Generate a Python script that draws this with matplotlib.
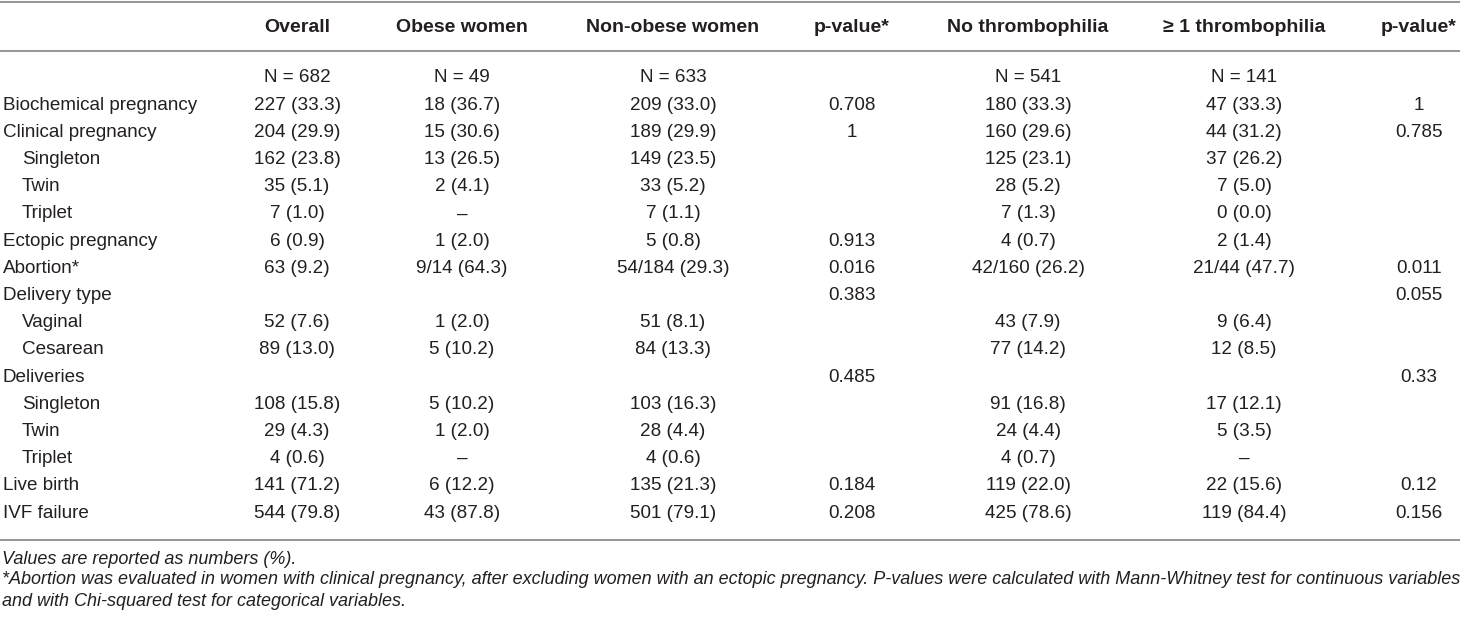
import matplotlib
matplotlib.use("Agg")
import matplotlib.pyplot as plt

# ---- table content ----
col_headers = ["Overall", "Obese women", "Non-obese women", "p-value*",
               "No thrombophilia", "\u2265 1 thrombophilia", "p-value*"]

n_row = ["N = 682", "N = 49", "N = 633", "", "N = 541", "N = 141", ""]

row_labels = ["Biochemical pregnancy", "Clinical pregnancy", "Singleton", "Twin",
              "Triplet", "Ectopic pregnancy", "Abortion*", "Delivery type",
              "Vaginal", "Cesarean", "Deliveries", "Singleton", "Twin",
              "Triplet", "Live birth", "IVF failure"]
row_indent = [0, 0, 1, 1, 1, 0, 0, 0, 1, 1, 0, 1, 1, 1, 0, 0]

overall = ["227 (33.3)", "204 (29.9)", "162 (23.8)", "35 (5.1)", "7 (1.0)",
           "6 (0.9)", "63 (9.2)", "", "52 (7.6)", "89 (13.0)", "",
           "108 (15.8)", "29 (4.3)", "4 (0.6)", "141 (71.2)", "544 (79.8)"]
obese = ["18 (36.7)", "15 (30.6)", "13 (26.5)", "2 (4.1)", "\u2013",
         "1 (2.0)", "9/14 (64.3)", "", "1 (2.0)", "5 (10.2)", "",
         "5 (10.2)", "1 (2.0)", "\u2013", "6 (12.2)", "43 (87.8)"]
non_obese = ["209 (33.0)", "189 (29.9)", "149 (23.5)", "33 (5.2)", "7 (1.1)",
             "5 (0.8)", "54/184 (29.3)", "", "51 (8.1)", "84 (13.3)", "",
             "103 (16.3)", "28 (4.4)", "4 (0.6)", "135 (21.3)", "501 (79.1)"]
p_obesity = ["0.708", "1", "", "", "", "0.913", "0.016", "0.383", "", "",
             "0.485", "", "", "", "0.184", "0.208"]
no_thromb = ["180 (33.3)", "160 (29.6)", "125 (23.1)", "28 (5.2)", "7 (1.3)",
             "4 (0.7)", "42/160 (26.2)", "", "43 (7.9)", "77 (14.2)", "",
             "91 (16.8)", "24 (4.4)", "4 (0.7)", "119 (22.0)", "425 (78.6)"]
thromb = ["47 (33.3)", "44 (31.2)", "37 (26.2)", "7 (5.0)", "0 (0.0)",
          "2 (1.4)", "21/44 (47.7)", "", "9 (6.4)", "12 (8.5)", "",
          "17 (12.1)", "5 (3.5)", "\u2013", "22 (15.6)", "119 (84.4)"]
p_thromb = ["1", "0.785", "", "", "", "", "0.011", "0.055", "", "",
            "0.33", "", "", "", "0.12", "0.156"]

footnotes = [
    "Values are reported as numbers (%).",
    "*Abortion was evaluated in women with clinical pregnancy, after excluding "
    "women with an ectopic pregnancy. P-values were calculated with Mann-Whitney "
    "test for continuous variables",
    "and with Chi-squared test for categorical variables.",
]

# ---- layout (pixel coordinates) ----
W, H = 1460, 622
col_x = [297, 462, 673, 852, 1028, 1244, 1419]
header_y = 27
first_row_y = 78
row_h = 27.2
foot_y = [559, 580, 601]

TEXT = "#231f20"
LINE = "#8c8c8c"
FONT = "Liberation Sans"
FS = 13.6

fig = plt.figure(figsize=(W / 100, H / 100), dpi=100)
ax = fig.add_axes([0, 0, 1, 1])
ax.set_xlim(0, W)
ax.set_ylim(H, 0)
ax.axis("off")
fig.patch.set_facecolor("white")

# rules
for y_line in [1.5, 51, 540]:
    ax.plot([0, W], [y_line, y_line], color=LINE, lw=1.3, solid_capstyle="butt")

# header
for x, label in zip(col_x, col_headers):
    ax.text(x, header_y, label, ha="center", va="center", fontsize=14.0,
            fontweight="bold", family=FONT, color=TEXT)

# N row
for x, label in zip(col_x, n_row):
    ax.text(x, first_row_y, label, ha="center", va="center", fontsize=FS,
            family=FONT, color=TEXT)

columns = [overall, obese, non_obese, p_obesity, no_thromb, thromb, p_thromb]
for i, label in enumerate(row_labels):
    y = first_row_y + (i + 1) * row_h
    ax.text(3 + 19 * row_indent[i], y, label, ha="left", va="center",
            fontsize=FS, family=FONT, color=TEXT)
    for x, col in zip(col_x, columns):
        if col[i]:
            ax.text(x, y, col[i], ha="center", va="center", fontsize=FS,
                    family=FONT, color=TEXT)

for y, note in zip(foot_y, footnotes):
    ax.text(2, y, note, ha="left", va="center", fontsize=12.95,
            style="italic", family=FONT, color=TEXT)

fig.savefig("out.png", dpi=100, facecolor="white")
plt.close(fig)
